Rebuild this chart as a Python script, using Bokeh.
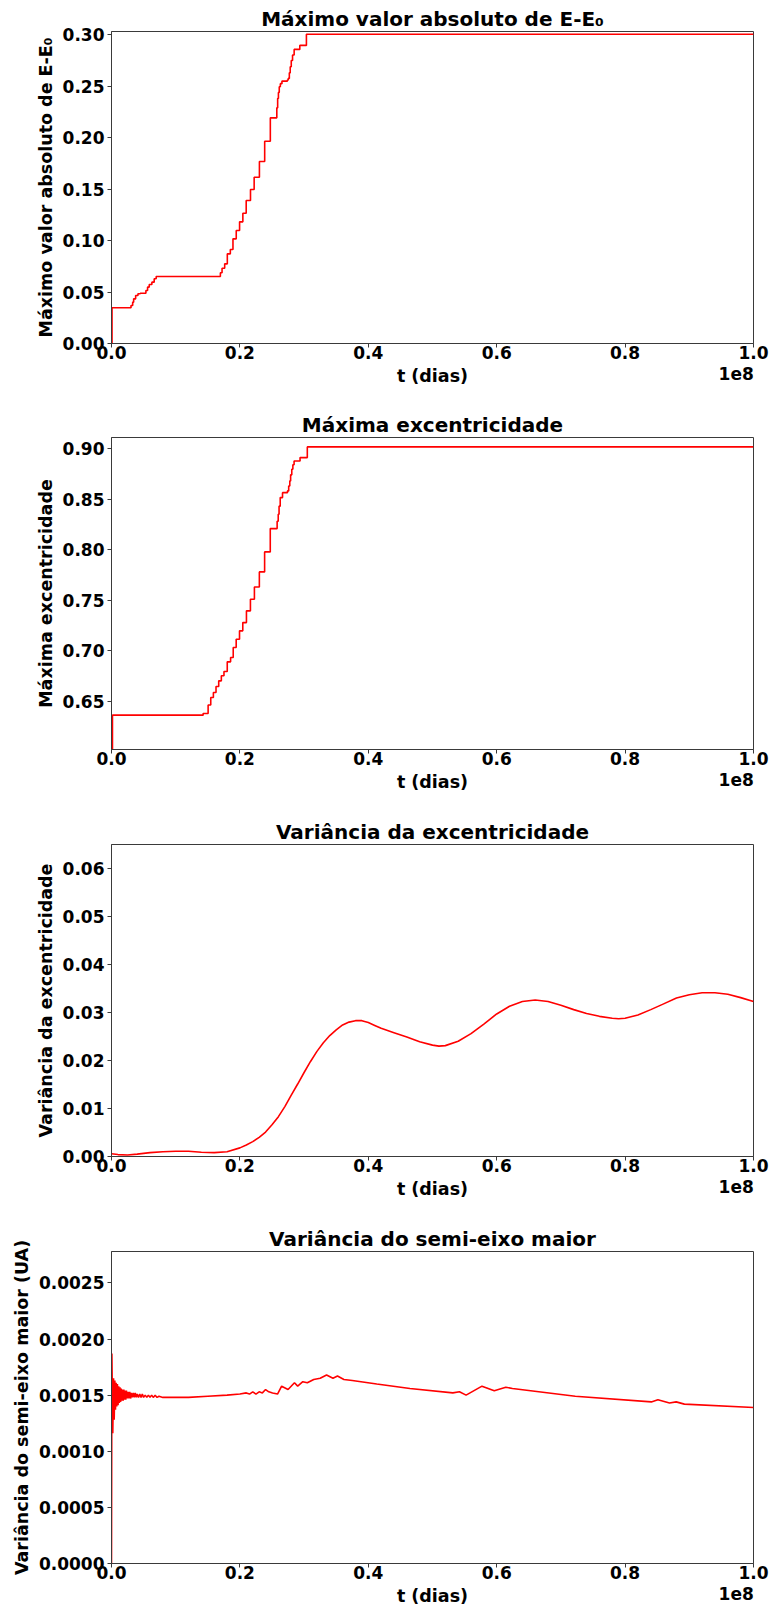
from bokeh.plotting import figure
from bokeh.models import Range1d, FixedTicker, PrintfTickFormatter, LinearAxis
from bokeh.layouts import column
from bokeh.embed import file_html
from bokeh.resources import INLINE

# ---------------------------------------------------------------- data
# time axis in units of 1e8 days
x_ticks = [0.0, 0.2, 0.4, 0.6, 0.8, 1.0]
x_scale_text = "1e8"

# maximum |E - E0| (running maximum, step-wise)
t_energy = [0.0, 0.0008, 0.0304, 0.0330, 0.0345, 0.0376, 0.0412, 0.0448,
            0.0536, 0.0562, 0.0588, 0.0629, 0.0665, 0.0696, 0.1696, 0.1722,
            0.1763, 0.1804, 0.1851, 0.1892, 0.1943, 0.1995, 0.2046, 0.2098,
            0.2165, 0.2222, 0.2304, 0.2386, 0.2474, 0.2575, 0.2588, 0.2600,
            0.2613, 0.2630, 0.2655, 0.2740, 0.2753, 0.2770, 0.2784, 0.2800,
            0.2820, 0.2845, 0.2933, 0.3036, 1.0]
max_energy = [0.0, 0.0347, 0.0369, 0.0402, 0.0434, 0.0467, 0.0483, 0.0489,
              0.0515, 0.0548, 0.0574, 0.0596, 0.0629, 0.0651, 0.0687, 0.0732,
              0.0774, 0.0871, 0.0913, 0.1017, 0.1098, 0.1182, 0.1266, 0.1389,
              0.1496, 0.1616, 0.1768, 0.1966, 0.2193, 0.2290, 0.2382, 0.2440,
              0.2495, 0.2525, 0.2550, 0.2560, 0.2576, 0.2630, 0.2689, 0.2750,
              0.2803, 0.2858, 0.2897, 0.3005, 0.3005]

# maximum eccentricity (running maximum, step-wise)
t_ecc = [0.0, 0.0015, 0.1427, 0.1505, 0.1546, 0.1587, 0.1628, 0.1670,
         0.1711, 0.1752, 0.1803, 0.1855, 0.1896, 0.1942, 0.1994, 0.2045,
         0.2102, 0.2164, 0.2226, 0.2303, 0.2385, 0.2473, 0.2580, 0.2597,
         0.2610, 0.2628, 0.2664, 0.2741, 0.2760, 0.2777, 0.2790, 0.2808,
         0.2825, 0.2844, 0.2937, 0.3050, 1.0]
max_ecc = [0.602, 0.636, 0.6377, 0.646, 0.6535, 0.6584, 0.6644, 0.670,
           0.675, 0.6792, 0.6888, 0.6931, 0.703, 0.7112, 0.7195, 0.7277,
           0.7393, 0.7508, 0.763, 0.7779, 0.7977, 0.8208, 0.8280, 0.835,
           0.843, 0.8515, 0.8564, 0.8581, 0.863, 0.868, 0.874, 0.8795,
           0.884, 0.8878, 0.8911, 0.9017, 0.9017]

# variance of the eccentricity
t_var_ecc = [0.0, 0.01, 0.025, 0.04, 0.06, 0.08, 0.10, 0.12, 0.14, 0.16,
             0.18, 0.20, 0.21, 0.22, 0.23, 0.24, 0.25, 0.26, 0.27, 0.28,
             0.29, 0.30, 0.31, 0.32, 0.33, 0.34, 0.35, 0.36, 0.37, 0.38,
             0.39, 0.40, 0.41, 0.42, 0.44, 0.46, 0.48, 0.50, 0.51, 0.52,
             0.54, 0.56, 0.58, 0.60, 0.62, 0.64, 0.66, 0.68, 0.70, 0.72,
             0.74, 0.76, 0.78, 0.79, 0.80, 0.82, 0.84, 0.86, 0.88, 0.90,
             0.92, 0.94, 0.96, 0.98, 1.0]
var_ecc = [0.00056, 0.0004, 0.0003, 0.0005, 0.0008, 0.0010, 0.0011, 0.0011,
           0.0009, 0.0008, 0.0010, 0.0018, 0.0024, 0.0031, 0.0040, 0.0051,
           0.0066, 0.0083, 0.0104, 0.0128, 0.0151, 0.0175, 0.0198, 0.0219,
           0.0237, 0.0252, 0.0264, 0.0274, 0.0280, 0.0283, 0.0283, 0.0279,
           0.0273, 0.0267, 0.0258, 0.0249, 0.0239, 0.0232, 0.0230, 0.0231,
           0.0240, 0.0256, 0.0276, 0.0297, 0.0313, 0.0323, 0.0326, 0.0323,
           0.0315, 0.0306, 0.0298, 0.0292, 0.0288, 0.0287, 0.0288, 0.0295,
           0.0306, 0.0318, 0.0330, 0.0337, 0.0341, 0.0341, 0.0338, 0.0331,
           0.0323]

# variance of the semi-major axis (UA)
t_var_a = [0.0, 0.0006, 0.0020, 0.0032, 0.0042, 0.0052, 0.0062, 0.0072,
           0.0082, 0.0092, 0.0102, 0.0112, 0.0122, 0.0132, 0.0142, 0.0152,
           0.0162, 0.0172, 0.0182, 0.0192, 0.0202, 0.0212, 0.0222, 0.0232,
           0.0245, 0.0258, 0.0271, 0.0284, 0.0297, 0.0310, 0.0325, 0.0340,
           0.0355, 0.0370, 0.0385, 0.0400, 0.0420, 0.0440, 0.0460, 0.0480,
           0.0500, 0.0525, 0.0550, 0.0575, 0.0600, 0.0625, 0.0650, 0.0680,
           0.0710, 0.0740, 0.0800, 0.1000, 0.1200, 0.1500, 0.1800, 0.2000,
           0.2100, 0.2150, 0.2200, 0.2250, 0.2300, 0.2350, 0.2400, 0.2450,
           0.2509, 0.2586, 0.2650, 0.2750, 0.2850, 0.2900, 0.2980, 0.3050,
           0.3150, 0.3250, 0.3350, 0.3450, 0.3520, 0.3620, 0.3750, 0.4132,
           0.4648, 0.5317, 0.5420, 0.5523, 0.5771, 0.5962, 0.6142, 0.6245,
           0.7224, 0.8408, 0.8511, 0.8692, 0.8795, 0.8923, 1.0]
var_a = [0.0, 0.00187, 0.00116, 0.00165, 0.00128, 0.00163, 0.00137, 0.00161,
         0.00140, 0.00160, 0.00141, 0.00158, 0.00143, 0.00157, 0.00144, 0.00156,
         0.00145, 0.00155, 0.00145, 0.00155, 0.00146, 0.00154, 0.00146, 0.00154,
         0.00147, 0.00153, 0.00147, 0.00153, 0.00147, 0.00152, 0.00148, 0.00152,
         0.00148, 0.00152, 0.00148, 0.00151, 0.00148, 0.00151, 0.00148, 0.00151,
         0.00148, 0.00150, 0.00148, 0.00150, 0.00148, 0.00150, 0.00148, 0.00150,
         0.00148, 0.00149, 0.00148, 0.00148, 0.00148, 0.00149, 0.00150, 0.00151,
         0.00152, 0.00151, 0.00153, 0.00151, 0.00153, 0.00152, 0.00155, 0.00153,
         0.00152, 0.00151, 0.00158, 0.00155, 0.00161, 0.00158, 0.00162, 0.00161,
         0.00164, 0.00165, 0.00168, 0.00165, 0.00167, 0.00164, 0.00163, 0.00160,
         0.00156, 0.00152, 0.00153, 0.00150, 0.00158, 0.00154, 0.00157, 0.00156,
         0.00149, 0.00144, 0.00146, 0.00143, 0.00144, 0.00142, 0.00139]

FONT = "DejaVu Sans"
RED = "#ff0000"
SPINE = "#3a3a3a"
SCALE_TICK = 0.973   # centre of the right-aligned "1e8" offset text


def style_axis(ax):
    ax.major_label_text_font = FONT
    ax.major_label_text_font_size = "17px"
    ax.major_label_text_font_style = "bold"
    ax.major_label_text_color = "black"
    ax.axis_label_text_font = FONT
    ax.axis_label_text_font_size = "17.5px"
    ax.axis_label_text_font_style = "bold"
    ax.axis_label_text_color = "black"
    ax.minor_tick_line_color = None
    ax.major_tick_in = 0
    ax.major_tick_out = 4
    ax.major_tick_line_color = SPINE
    ax.axis_line_color = SPINE


def panel(title, ylabel, yrange, yticks, yfmt, height, left, right, top, bottom):
    p = figure(width=773, height=height,
               x_range=Range1d(0, 1), y_range=Range1d(*yrange),
               output_backend="svg", toolbar_location=None,
               min_border_left=left, min_border_right=right,
               min_border_top=top, min_border_bottom=bottom)
    p.title.text = title
    p.title.align = "center"
    p.title.text_font = FONT
    p.title.text_font_size = "20px"
    p.title.text_font_style = "bold"
    p.title.text_color = "black"
    p.title.standoff = 2
    p.xgrid.visible = False
    p.ygrid.visible = False
    p.outline_line_color = SPINE
    p.outline_line_width = 1
    p.background_fill_color = "white"
    p.border_fill_color = "white"

    style_axis(p.xaxis[0])
    style_axis(p.yaxis[0])

    p.xaxis.ticker = FixedTicker(ticks=x_ticks)
    p.xaxis.formatter = PrintfTickFormatter(format="%.1f")
    p.xaxis.axis_label = "t (dias)"
    p.xaxis.major_label_standoff = -2
    p.xaxis.axis_label_standoff = 4

    p.yaxis.ticker = FixedTicker(ticks=yticks)
    p.yaxis.formatter = PrintfTickFormatter(format=yfmt)
    p.yaxis.axis_label = ylabel
    p.yaxis.major_label_standoff = 3
    p.yaxis.axis_label_standoff = 4

    # offset text of the time axis, on the row of the axis label
    scale_axis = LinearAxis(ticker=FixedTicker(ticks=[SCALE_TICK]),
                            major_label_overrides={SCALE_TICK: x_scale_text})
    style_axis(scale_axis)
    scale_axis.major_tick_line_color = None
    scale_axis.axis_line_color = None
    scale_axis.major_tick_out = 0
    scale_axis.major_label_standoff = -22
    p.add_layout(scale_axis, "below")
    return p


p1 = panel("Máximo valor absoluto de E-E₀", "Máximo valor absoluto de E-E₀",
           (0.0, 0.3032), [0.0, 0.05, 0.10, 0.15, 0.20, 0.25, 0.30], "%.2f",
           407, 111, 15, 31, 64)
p1.step(t_energy, max_energy, mode="after", line_color=RED, line_width=1.6)

p2 = panel("Máxima excentricidade", "Máxima excentricidade",
           (0.602, 0.911), [0.65, 0.70, 0.75, 0.80, 0.85, 0.90], "%.2f",
           407, 106, 20, 30, 65)
p2.step(t_ecc, max_ecc, mode="after", line_color=RED, line_width=1.6)

p3 = panel("Variância da excentricidade", "Variância da excentricidade",
           (0.0, 0.065), [0.0, 0.01, 0.02, 0.03, 0.04, 0.05, 0.06], "%.2f",
           407, 106, 20, 30, 65)
p3.line(t_var_ecc, var_ecc, line_color=RED, line_width=1.6)

p4 = panel("Variância do semi-eixo maior", "Variância do semi-eixo maior (UA)",
           (0.0, 0.00278), [0.0, 0.0005, 0.0010, 0.0015, 0.0020, 0.0025], "%.4f",
           389, 106, 20, 30, 47)
p4.line(t_var_a, var_a, line_color=RED, line_width=1.6)

layout = column(p1, p2, p3, p4, spacing=0)

with open("out.html", "w") as f:
    f.write(file_html(layout, INLINE))
